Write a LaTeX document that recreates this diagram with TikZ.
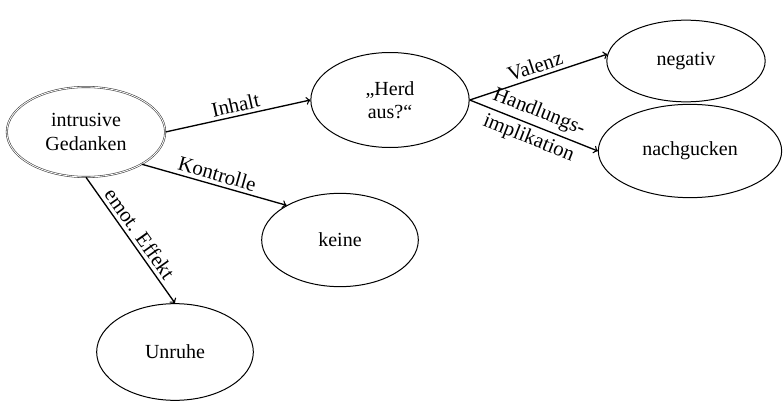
\documentclass[tikz,border=0pt]{standalone}
\usepackage{fontspec}
\setmainfont{Liberation Serif}
\usepackage{tikz}
\usetikzlibrary{shapes.geometric, positioning, calc}

\begin{document}
\begin{tikzpicture}[x=0.6pt, y=0.6pt, ->, font=\fontsize{12}{14}\selectfont,
                    main node/.style={ellipse, draw, semithick, align=center, inner sep=0pt},
                    edge label/.style={sloped, font=\fontsize{12.5}{15}\selectfont}]
\useasboundingbox (0,0) rectangle (784,404);

%NODES
  \node[main node, draw=black!75, double, double distance=0.5pt, line width=0.35pt,
        minimum width=95pt, minimum height=54pt] (gedanken) at (86,272) {intrusive\\Gedanken};
  \node[main node, minimum width=95pt, minimum height=57pt] (herd) [shift={(304,32)}] at (gedanken) {„Herd\\aus?“};
  \node[main node, minimum width=94pt, minimum height=56pt] (keine) [shift={(254,-108)}] at (gedanken) {keine};
  \node[main node, minimum width=94pt, minimum height=58pt] (unruhe) [shift={(89,-220)}] at (gedanken) {Unruhe};
  \node[main node, minimum width=95pt, minimum height=49pt] (negativ) [shift={(296,39)}] at (herd) {negativ};
  \node[main node, minimum width=110pt, minimum height=56pt] (nachgucken) [shift={(300,-51)}] at (herd) {nachgucken};

%EDGES
  \path[thick]
    (gedanken.east) edge node[edge label, above, inner sep=2pt] {Inhalt} (herd.west)
    (gedanken.-30) edge node[edge label, above, inner sep=2pt] {Kontrolle} (keine.147)
    (gedanken.south) edge node[edge label, above, inner sep=2pt] {emot. Effekt} (unruhe.north)
    (herd.east) edge node[edge label, above, inner sep=2pt] {Valenz} (negativ.175)
              edge node[edge label, align=center, font=\fontsize{12.5}{17}\selectfont] {Handlungs-\\implikation} (nachgucken.west);

\end{tikzpicture}
\end{document}
